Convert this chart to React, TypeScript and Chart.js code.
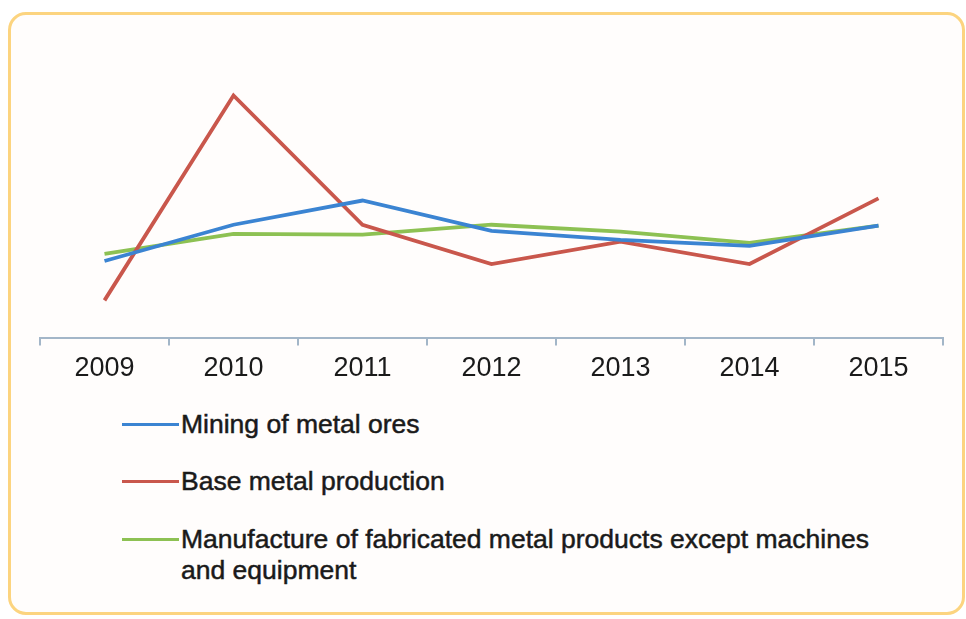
import React, { useEffect, useRef } from "react";
import { Chart, registerables } from "chart.js";

Chart.register(...registerables);

const years = ["2009", "2010", "2011", "2012", "2013", "2014", "2015"];
const miningOfMetalOres = [25.3, 37.3, 45.3, 35.3, 32.3, 30.3, 37];
const baseMetalProduction = [12.3, 80, 37.3, 24.3, 31.7, 24.3, 46];
const fabricatedMetalProducts = [27.7, 34.3, 34, 37.3, 35, 31.3, 37];

const seriesNames = [
  "Mining of metal ores",
  "Base metal production",
  "Manufacture of fabricated metal products except machines and equipment",
];
const seriesColors = ["#3B84D2", "#C9574C", "#8DC153"];

export default function App() {
  const ref = useRef<HTMLCanvasElement | null>(null);

  useEffect(() => {
    document.body.style.margin = "0";
    const canvas = ref.current;
    if (!canvas) return;
    const chart = new Chart(canvas, {
      type: "line",
      data: {
        labels: years,
        datasets: [
          { label: seriesNames[0], data: miningOfMetalOres, borderColor: seriesColors[0] },
          { label: seriesNames[1], data: baseMetalProduction, borderColor: seriesColors[1] },
          { label: seriesNames[2], data: fabricatedMetalProducts, borderColor: seriesColors[2] },
        ].map((d) => ({
          ...d,
          backgroundColor: d.borderColor,
          borderWidth: 3.8,
          pointRadius: 0,
          tension: 0,
          fill: false,
        })),
      },
      options: {
        responsive: false,
        animation: false,
        layout: { padding: { left: 40, right: 23, top: 35, bottom: 0 } },
        plugins: { legend: { display: false }, tooltip: { enabled: false } },
        scales: {
          x: {
            offset: true,
            border: { display: true, color: "#A3B6C8", width: 2 },
            grid: {
              offset: true,
              drawOnChartArea: false,
              drawTicks: true,
              tickLength: 8,
              color: "#A3B6C8",
              lineWidth: 2,
            },
            ticks: {
              color: "#1A1A1A",
              font: { family: "'Liberation Sans', Arial, sans-serif", size: 27 },
              padding: 7,
              maxRotation: 0,
            },
          },
          y: { display: false, min: 0, max: 100 },
        },
      },
    });
    return () => chart.destroy();
  }, []);

  const legendText: React.CSSProperties = {
    fontFamily: "'Liberation Sans', Arial, sans-serif",
    fontSize: 26.5,
    color: "#1A1A1A",
    lineHeight: "31px",
    WebkitTextStroke: "0.5px #1A1A1A",
    maxWidth: 720,
  };

  return (
    <div style={{ position: "relative", width: 966, height: 619, background: "#fff", overflow: "hidden" }}>
      <div
        style={{
          position: "absolute",
          left: 8,
          top: 12,
          width: 957,
          height: 603,
          border: "3px solid #FCD47F",
          borderRadius: 18,
          background: "#FFFDFC",
          boxSizing: "border-box",
        }}
      />
      <canvas ref={ref} width={966} height={392} style={{ position: "absolute", left: 0, top: 0 }} />
      <div style={{ position: "absolute", left: 122, top: 0 }}>
        {seriesNames.map((name, i) => (
          <div key={name} style={{ position: "absolute", top: [409, 466, 524][i], left: 0, display: "flex", width: 800 }}>
            <div style={{ width: 57, height: 3.8, background: seriesColors[i], marginTop: 13.5, flex: "none" }} />
            <div style={{ ...legendText, marginLeft: 2 }}>{name}</div>
          </div>
        ))}
      </div>
    </div>
  );
}
